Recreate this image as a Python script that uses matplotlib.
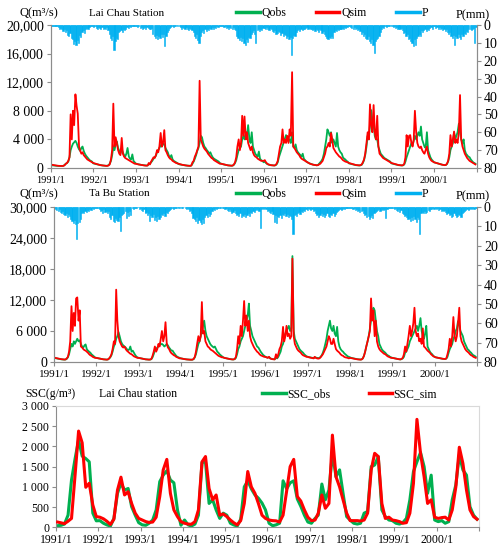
import pandas as pd
import matplotlib
matplotlib.use("Agg")
import matplotlib.pyplot as plt
from matplotlib.lines import Line2D

plt.rcParams['font.family'] = ['Liberation Serif', 'DejaVu Serif']

############################################
# DATA (dekadal values, 36 per year, 1991-2000)
years = list(range(1991, 2001))

# Lai Chau discharge (m3/s)
lc_qobs = [
    [400, 380, 360, 340, 320, 300, 290, 280, 270, 270, 280, 320, 450, 600, 700, 900, 1500, 2500, 3000, 3400, 3600, 3800, 3500, 3000, 2600, 2400, 2800, 3000, 2400, 2000, 1700, 1500, 1300, 1100, 1000, 900],
    [650, 600, 560, 520, 480, 440, 400, 380, 350, 330, 320, 300, 320, 400, 600, 1000, 1800, 3000, 2500, 3300, 3700, 2800, 2400, 2000, 2600, 2200, 1800, 1600, 2000, 2800, 1600, 1300, 1200, 1900, 1000, 800],
    [600, 560, 520, 480, 450, 420, 400, 380, 360, 350, 360, 500, 600, 800, 1000, 1300, 1500, 1700, 2200, 2500, 2800, 3200, 3000, 3400, 3300, 2800, 2500, 2200, 1700, 1500, 1800, 1200, 1000, 900, 800, 700],
    [550, 500, 470, 440, 410, 380, 360, 340, 320, 310, 300, 350, 600, 900, 1300, 1800, 2400, 2800, 3500, 4500, 4300, 3500, 3000, 2800, 2500, 2300, 2000, 2200, 1800, 1500, 1300, 1200, 1100, 1000, 900, 700],
    [600, 550, 510, 470, 430, 400, 370, 350, 330, 320, 340, 450, 700, 1100, 1800, 2500, 2800, 3000, 4000, 4500, 4000, 5000, 4500, 6000, 4000, 3500, 5000, 3000, 2500, 2000, 1800, 1600, 2300, 1300, 1100, 1000],
    [800, 900, 700, 550, 480, 430, 400, 380, 360, 350, 380, 500, 800, 1500, 2000, 2500, 3000, 3500, 4000, 4600, 4200, 3800, 4000, 3500, 5000, 3000, 2800, 3300, 2500, 2200, 2000, 1800, 1600, 2000, 1300, 1100],
    [900, 800, 700, 620, 560, 500, 460, 430, 400, 380, 420, 600, 800, 1000, 1300, 2000, 3000, 4000, 5400, 5000, 4500, 5000, 3500, 4000, 3500, 3000, 4900, 3000, 2500, 2200, 2000, 1500, 1300, 1200, 1000, 900],
    [650, 600, 560, 520, 480, 440, 400, 380, 360, 350, 380, 450, 700, 1100, 1800, 3000, 4500, 4000, 6000, 8100, 6500, 6000, 4500, 4000, 4000, 3000, 2500, 2000, 1800, 1600, 1400, 1300, 1200, 1100, 1000, 900],
    [650, 600, 560, 520, 480, 440, 400, 380, 360, 350, 380, 500, 900, 1500, 2000, 2500, 3000, 3500, 3200, 3800, 4500, 4000, 4500, 5000, 4500, 5800, 4000, 3500, 3000, 2800, 5000, 2500, 2000, 1500, 1200, 1000],
    [800, 750, 700, 650, 600, 550, 500, 460, 430, 400, 420, 550, 900, 1500, 2500, 3000, 3500, 5000, 4000, 4500, 5000, 6200, 5000, 4000, 3500, 4000, 2500, 2000, 1800, 1600, 1500, 1200, 1000, 800, 700, 600],
]
lc_qsim = [
    [480, 450, 420, 390, 360, 340, 320, 300, 290, 280, 280, 300, 400, 600, 700, 1000, 1500, 7500, 4000, 8000, 6000, 10300, 8700, 7600, 3000, 2400, 2000, 2200, 1800, 1600, 1400, 1200, 1100, 1000, 900, 800],
    [700, 650, 600, 550, 500, 450, 400, 380, 350, 330, 320, 300, 300, 350, 500, 1200, 2500, 9000, 3000, 4300, 3500, 2500, 2000, 1800, 4200, 2000, 1600, 1400, 1300, 1200, 1100, 1000, 900, 800, 700, 600],
    [600, 550, 500, 470, 440, 410, 380, 360, 340, 330, 350, 700, 500, 900, 1200, 1500, 1400, 1800, 2500, 2200, 3000, 4900, 3000, 3500, 5300, 2500, 2200, 1800, 1500, 1300, 1200, 1000, 900, 800, 700, 650],
    [600, 550, 500, 450, 420, 390, 360, 340, 320, 310, 300, 350, 800, 1000, 1600, 2000, 2500, 3000, 12200, 4000, 3500, 3000, 2700, 2500, 2300, 2000, 1800, 1600, 1400, 1300, 1100, 1000, 900, 800, 700, 600],
    [600, 560, 520, 480, 440, 400, 370, 350, 330, 320, 350, 500, 800, 1500, 3000, 4000, 2500, 3500, 7300, 4500, 7200, 4000, 5000, 3500, 3000, 2500, 3000, 2200, 1800, 1600, 1500, 1300, 1200, 1100, 1000, 1000],
    [1000, 1100, 800, 600, 500, 450, 400, 380, 360, 350, 400, 600, 1000, 2000, 3000, 3500, 5400, 3500, 4000, 3500, 4500, 3500, 5400, 4500, 13400, 3000, 2800, 2500, 2200, 2000, 1800, 1500, 1300, 1200, 1100, 1000],
    [900, 800, 700, 600, 550, 500, 460, 430, 400, 380, 400, 500, 600, 800, 1000, 1500, 2000, 2800, 3000, 3500, 3000, 4900, 4000, 2800, 2500, 2200, 2000, 1800, 1600, 1500, 1300, 1100, 1000, 900, 850, 800],
    [700, 650, 600, 550, 500, 460, 420, 400, 380, 370, 400, 500, 800, 1200, 2000, 3500, 5000, 4000, 8900, 6000, 5000, 8800, 5000, 4000, 7300, 3000, 2000, 1800, 1600, 1400, 1300, 1200, 1100, 1000, 900, 800],
    [700, 650, 600, 550, 500, 450, 420, 400, 380, 370, 400, 600, 1500, 4600, 3000, 4500, 4600, 3500, 3000, 4000, 8000, 5000, 3500, 3000, 2800, 3000, 2500, 2200, 2000, 2500, 3000, 2000, 1500, 1200, 1000, 900],
    [800, 750, 700, 650, 600, 550, 500, 460, 430, 400, 420, 600, 1000, 2000, 4600, 3000, 4000, 5100, 3500, 4000, 3500, 5000, 10200, 4000, 3000, 2500, 2000, 1700, 1400, 1200, 1000, 900, 800, 700, 600, 500],
]
# Lai Chau precipitation (mm)
lc_p = [
    [0.5, 0.3, 0.6, 0.4, 0.8, 0.5, 1.2, 2.0, 1.5, 2.5, 3.5, 2.0, 4.0, 3.0, 5.5, 6.0, 4.5, 7.5, 8.0, 10.5, 9.0, 11.0, 8.5, 10.0, 5.5, 6.5, 4.0, 3.0, 4.5, 2.0, 1.5, 2.5, 1.0, 0.8, 0.5, 0.3],
    [1.0, 0.5, 1.5, 2.0, 1.0, 1.5, 2.0, 1.0, 2.5, 1.5, 2.0, 1.0, 3.0, 5.0, 7.0, 8.5, 6.0, 14.0, 9.0, 7.0, 8.0, 4.0, 3.5, 3.0, 4.0, 2.5, 3.0, 2.0, 1.0, 1.5, 0.5, 1.0, 0.5, 0.3, 0.5, 0.3],
    [0.5, 1.0, 0.5, 1.5, 1.0, 2.0, 1.5, 1.0, 2.0, 1.0, 1.5, 2.0, 2.5, 1.5, 5.0, 6.0, 7.5, 5.5, 8.0, 6.0, 7.0, 5.0, 6.5, 5.0, 12.0, 6.0, 4.0, 3.0, 1.5, 1.0, 0.5, 1.0, 0.5, 0.3, 0.2, 0.5],
    [0.5, 1.0, 2.0, 1.0, 1.5, 2.5, 1.0, 2.0, 3.0, 1.5, 2.5, 3.0, 4.0, 6.0, 7.0, 5.0, 8.5, 10.0, 6.0, 4.0, 3.0, 4.5, 2.0, 3.5, 2.0, 3.0, 1.5, 2.5, 1.0, 2.0, 1.0, 1.5, 0.5, 1.0, 0.5, 0.3],
    [0.5, 0.3, 1.0, 0.5, 1.5, 1.0, 2.0, 1.0, 1.5, 2.0, 1.0, 2.5, 3.0, 6.0, 7.0, 8.5, 6.5, 9.0, 7.0, 10.0, 11.0, 8.0, 9.5, 6.5, 7.0, 5.0, 4.0, 3.0, 5.0, 10.0, 3.0, 2.5, 3.5, 2.0, 3.0, 1.5],
    [1.5, 2.5, 1.0, 2.0, 3.0, 1.5, 2.5, 3.5, 4.0, 3.0, 5.0, 4.5, 3.5, 4.0, 5.5, 4.5, 6.0, 5.0, 5.5, 7.0, 6.0, 8.0, 6.5, 17.0, 7.0, 5.5, 6.0, 4.0, 3.0, 2.5, 3.5, 2.0, 3.0, 2.0, 2.5, 1.5],
    [1.0, 2.0, 1.5, 2.5, 2.0, 3.0, 2.0, 3.5, 2.5, 3.0, 4.0, 2.5, 3.0, 4.5, 3.5, 5.0, 6.0, 7.0, 8.0, 6.5, 7.5, 6.0, 7.0, 4.0, 3.0, 3.5, 2.5, 3.0, 2.0, 2.5, 1.5, 2.0, 1.0, 1.5, 1.0, 0.5],
    [0.5, 1.0, 1.5, 2.0, 1.0, 2.5, 1.5, 3.0, 2.0, 3.5, 5.0, 4.0, 6.0, 5.0, 7.5, 8.0, 6.0, 9.0, 10.0, 8.0, 11.0, 15.5, 9.0, 8.0, 7.0, 6.0, 4.0, 2.0, 1.0, 1.5, 0.5, 1.0, 0.5, 0.3, 0.5, 0.2],
    [0.5, 1.0, 0.5, 1.5, 1.0, 2.0, 1.0, 2.0, 1.5, 3.0, 4.5, 4.0, 6.0, 5.0, 8.0, 7.0, 9.0, 10.0, 12.0, 8.0, 11.0, 7.0, 6.0, 5.0, 6.0, 3.0, 4.0, 3.0, 2.5, 3.5, 2.0, 3.0, 1.5, 1.0, 2.0, 0.5],
    [0.5, 1.5, 1.0, 2.0, 1.0, 2.5, 1.5, 3.0, 2.0, 3.5, 2.5, 4.0, 5.0, 4.0, 6.0, 7.0, 5.5, 11.0, 6.0, 7.5, 5.0, 6.5, 8.0, 5.0, 6.0, 4.5, 5.0, 3.5, 4.0, 2.5, 2.0, 3.0, 2.5, 1.5, 10.0, 1.0],
]

# Ta Bu discharge (m3/s)
tb_qobs = [
    [800, 750, 700, 650, 600, 560, 530, 500, 480, 460, 480, 600, 900, 1500, 2500, 3500, 3000, 4000, 3500, 4000, 4500, 4000, 4200, 3500, 3000, 2800, 3200, 3400, 2500, 2200, 2000, 1800, 1500, 1300, 1100, 900],
    [800, 750, 700, 650, 600, 560, 520, 500, 480, 460, 500, 650, 900, 1300, 2000, 3000, 3500, 4500, 5000, 5800, 5000, 4000, 3500, 3200, 3000, 2800, 2500, 2300, 2400, 3000, 2000, 2200, 1800, 1400, 1100, 900],
    [800, 750, 700, 650, 600, 560, 520, 500, 480, 460, 480, 550, 900, 1500, 2200, 2500, 2800, 3000, 3600, 3400, 3500, 3300, 3000, 3200, 3500, 3200, 2800, 2500, 2200, 2200, 1800, 1500, 1200, 1000, 900, 800],
    [700, 650, 600, 560, 520, 500, 480, 460, 450, 440, 460, 550, 900, 1500, 2500, 3500, 4000, 5000, 6000, 7000, 8000, 6000, 5000, 4500, 4000, 3500, 3200, 3000, 2800, 3000, 2500, 2000, 1800, 1500, 1300, 1100],
    [900, 800, 750, 700, 650, 600, 560, 530, 500, 500, 550, 800, 1500, 2500, 3000, 4000, 4500, 5000, 6000, 7000, 8000, 9000, 11300, 7000, 6000, 5000, 4500, 4000, 3500, 3000, 2800, 2400, 2000, 1700, 1400, 1200],
    [1000, 900, 850, 950, 700, 620, 570, 540, 520, 800, 700, 1000, 1500, 2000, 3000, 3500, 4500, 5500, 6000, 6500, 7000, 6000, 6500, 20500, 6000, 4500, 4000, 3500, 3000, 2500, 2200, 2000, 1800, 1500, 1300, 1100],
    [1000, 950, 900, 850, 800, 750, 900, 850, 800, 750, 800, 1000, 1300, 1800, 2500, 3500, 4500, 6000, 7000, 8000, 6500, 6000, 7000, 5500, 5000, 6800, 4000, 3000, 2500, 2200, 2000, 1700, 1500, 1300, 1100, 1000],
    [900, 800, 750, 700, 650, 600, 560, 530, 500, 480, 520, 700, 1200, 2000, 3000, 4000, 5000, 6500, 8000, 9000, 10500, 10000, 8000, 6000, 5000, 3500, 3000, 2500, 2200, 2000, 1800, 1500, 1300, 1200, 1000, 900],
    [800, 750, 700, 650, 600, 560, 530, 500, 550, 700, 1000, 1800, 2000, 2500, 3000, 4000, 4500, 5000, 5500, 6000, 6500, 7000, 6000, 7000, 8500, 6000, 5000, 4500, 5500, 7000, 3000, 2500, 2000, 1700, 1500, 1200],
    [1000, 900, 850, 800, 750, 700, 650, 620, 600, 580, 650, 1000, 1800, 2500, 3000, 3500, 4500, 5000, 6000, 6500, 7900, 7000, 6000, 5500, 5000, 4000, 3500, 3000, 2500, 2300, 2000, 1800, 1500, 1300, 1200, 1000],
]
tb_qsim = [
    [900, 800, 750, 700, 650, 600, 560, 530, 500, 480, 500, 700, 1000, 2000, 4000, 10800, 6000, 9500, 7000, 12300, 12500, 8000, 10000, 3000, 2800, 2500, 2300, 2200, 2000, 1800, 1500, 1300, 1200, 1000, 900, 800],
    [800, 750, 700, 650, 600, 560, 520, 500, 480, 460, 500, 700, 1000, 1500, 2500, 4000, 3500, 14000, 8000, 5000, 4000, 3500, 3000, 2800, 3000, 2500, 2200, 2000, 1800, 1600, 1500, 1300, 1100, 1000, 900, 800],
    [800, 750, 700, 650, 600, 560, 520, 500, 480, 460, 480, 600, 1200, 2000, 3000, 2000, 2500, 3500, 3000, 4500, 6000, 4000, 5000, 7700, 3500, 2800, 2500, 2000, 1700, 1500, 1300, 1200, 1000, 900, 800, 700],
    [700, 650, 600, 560, 520, 500, 480, 460, 450, 440, 460, 600, 1000, 2000, 3500, 5000, 4000, 5000, 11600, 5500, 6000, 4000, 3500, 3000, 2800, 2500, 2300, 2200, 2000, 1800, 1600, 1400, 1200, 1100, 1000, 900],
    [900, 800, 750, 700, 650, 600, 560, 530, 500, 500, 600, 1000, 2500, 5000, 3500, 7000, 5000, 8000, 11800, 7000, 9000, 6000, 8000, 5000, 4000, 3500, 3000, 2600, 2300, 2000, 1800, 1500, 1300, 1200, 1100, 1000],
    [1000, 900, 800, 1000, 700, 600, 550, 520, 500, 1500, 800, 1500, 2500, 3000, 4000, 6800, 4000, 5000, 7000, 5000, 5500, 4500, 5000, 20000, 5000, 3500, 3000, 2500, 2200, 2000, 1800, 1500, 1300, 1200, 1100, 1000],
    [1000, 900, 850, 800, 750, 700, 1000, 800, 700, 650, 700, 900, 1200, 1500, 2000, 2500, 3000, 4000, 5000, 4500, 3500, 3500, 4500, 3500, 2500, 2200, 2000, 1800, 1500, 1300, 1200, 1000, 900, 850, 800, 700],
    [800, 750, 700, 650, 600, 560, 530, 500, 480, 460, 500, 700, 1200, 2000, 3000, 4000, 5000, 6000, 12300, 8000, 10000, 5000, 8000, 4000, 3000, 2500, 2200, 2000, 1800, 1600, 1500, 1300, 1100, 1000, 900, 800],
    [800, 750, 700, 650, 600, 560, 530, 500, 600, 800, 1500, 3000, 2000, 3500, 5000, 7000, 5000, 6000, 7500, 10500, 6000, 5000, 5500, 4000, 4500, 3500, 6500, 3000, 2800, 2500, 2200, 2000, 1800, 1500, 1300, 1100],
    [1000, 900, 850, 800, 750, 700, 650, 620, 600, 580, 700, 1500, 2500, 4500, 3000, 5000, 8700, 5000, 4000, 5000, 7500, 10500, 5000, 4000, 3500, 3000, 2500, 2200, 2000, 1800, 1500, 1300, 1200, 1000, 900, 800],
]
# Ta Bu precipitation (mm)
tb_p = [
    [0.5, 1.0, 1.5, 2.0, 1.0, 2.5, 3.0, 2.0, 3.5, 4.0, 3.0, 5.0, 3.5, 4.5, 6.0, 7.0, 8.5, 6.5, 9.0, 16.5, 8.0, 7.5, 6.0, 3.0, 2.5, 3.0, 2.0, 2.5, 1.5, 2.0, 1.0, 1.5, 0.5, 1.0, 0.5, 0.3],
    [0.5, 0.3, 1.0, 2.0, 1.5, 3.0, 1.0, 2.5, 2.0, 3.0, 2.0, 5.0, 6.0, 4.0, 7.0, 7.5, 5.5, 6.5, 7.0, 5.0, 12.5, 4.0, 3.5, 3.0, 2.0, 5.5, 2.5, 4.5, 2.0, 4.0, 0.5, 1.0, 0.5, 0.3, 0.5, 0.2],
    [1.0, 0.5, 1.5, 2.0, 1.0, 3.0, 2.5, 4.0, 3.0, 7.0, 4.0, 5.0, 3.5, 6.5, 5.0, 7.0, 4.5, 6.0, 5.0, 3.5, 4.0, 3.0, 4.5, 2.5, 3.0, 2.0, 1.5, 1.0, 0.5, 1.0, 0.5, 0.3, 0.5, 0.2, 0.3, 0.2],
    [0.3, 0.5, 0.2, 0.5, 1.0, 0.5, 1.0, 2.0, 1.5, 3.0, 5.5, 6.0, 7.0, 5.0, 8.0, 6.5, 7.5, 9.0, 6.0, 8.0, 5.0, 4.0, 5.0, 3.0, 4.5, 3.5, 2.0, 1.0, 1.5, 0.5, 1.0, 0.5, 0.3, 0.5, 0.2, 0.3],
    [0.5, 1.0, 0.5, 1.5, 2.0, 1.0, 2.0, 3.0, 2.5, 1.5, 3.0, 4.0, 3.5, 4.5, 3.0, 5.0, 4.0, 4.5, 3.5, 5.0, 4.0, 3.0, 4.5, 2.5, 3.0, 2.0, 2.5, 1.5, 1.0, 1.5, 2.0, 11.0, 1.0, 0.5, 1.0, 0.5],
    [1.0, 2.0, 1.5, 2.5, 3.0, 2.0, 3.5, 7.5, 4.0, 8.0, 4.5, 5.0, 4.0, 5.5, 3.5, 4.0, 3.0, 4.5, 3.5, 5.0, 4.0, 4.5, 6.0, 14.0, 4.0, 3.5, 4.5, 3.0, 2.5, 3.5, 2.0, 2.5, 1.5, 2.0, 1.0, 1.5],
    [0.5, 1.0, 1.5, 1.0, 2.0, 1.5, 3.0, 4.0, 3.5, 5.0, 4.0, 3.0, 4.5, 3.5, 5.0, 4.0, 3.0, 4.5, 5.0, 3.5, 4.0, 3.0, 4.5, 3.5, 2.5, 2.0, 1.5, 1.0, 1.5, 1.0, 0.5, 1.0, 0.5, 0.3, 0.5, 0.3],
    [0.3, 0.5, 1.0, 0.5, 1.5, 1.0, 2.0, 1.5, 2.5, 2.0, 1.5, 3.0, 4.0, 3.5, 5.0, 4.5, 6.0, 5.0, 4.0, 5.5, 3.0, 2.5, 2.0, 1.5, 1.0, 2.0, 1.5, 1.0, 1.5, 1.0, 5.5, 1.0, 0.5, 0.5, 0.3, 0.5],
    [0.5, 1.0, 0.5, 1.5, 2.0, 1.0, 2.5, 1.5, 3.0, 3.5, 4.5, 4.0, 5.0, 6.0, 5.5, 7.0, 5.0, 6.5, 4.5, 6.0, 7.5, 5.0, 6.0, 14.0, 3.0, 2.5, 3.0, 2.0, 3.0, 2.5, 1.5, 2.0, 1.0, 1.0, 0.5, 1.0],
    [0.5, 1.0, 0.5, 1.5, 1.0, 2.0, 1.5, 2.0, 1.5, 2.5, 3.5, 3.0, 4.0, 3.5, 5.0, 4.5, 3.0, 4.0, 5.0, 4.5, 3.5, 4.0, 5.0, 3.0, 2.5, 2.0, 1.5, 1.0, 1.5, 1.0, 0.5, 1.0, 0.5, 1.0, 0.5, 0.3],
]

# Lai Chau suspended sediment concentration (g/m3), monthly
ssc_obs = [
    [40, 50, 80, 300, 1170, 1700, 2160, 1760, 1700, 1620, 350, 160],
    [165, 100, 60, 30, 220, 840, 1090, 920, 960, 510, 300, 115],
    [60, 50, 100, 180, 430, 1130, 1290, 1400, 1170, 1100, 430, 50],
    [180, 60, 30, 80, 300, 1600, 1620, 590, 680, 430, 220, 350],
    [300, 100, 60, 30, 200, 1000, 1150, 950, 800, 720, 600, 430],
    [100, 40, 60, 100, 1150, 950, 1100, 1150, 700, 520, 300, 130],
    [100, 220, 300, 1070, 680, 920, 1830, 1250, 1420, 840, 265, 180],
    [100, 80, 100, 350, 390, 1500, 1540, 1750, 430, 265, 180, 165],
    [100, 80, 115, 220, 680, 1380, 1620, 1850, 1500, 840, 1290, 180],
    [140, 165, 100, 140, 680, 1050, 1790, 1420, 1290, 510, 300, 200],
]
ssc_sim = [
    [130, 110, 90, 150, 220, 1300, 2380, 2090, 990, 1090, 550, 265],
    [250, 210, 150, 70, 200, 920, 1240, 800, 880, 590, 350, 220],
    [180, 140, 120, 130, 250, 760, 1420, 1680, 840, 430, 265, 140],
    [100, 80, 75, 140, 430, 1620, 1750, 960, 680, 800, 300, 330],
    [265, 180, 115, 60, 165, 590, 1380, 1000, 840, 590, 300, 220],
    [180, 165, 160, 130, 300, 900, 1500, 1680, 760, 650, 430, 250],
    [165, 180, 350, 800, 470, 590, 2280, 1250, 1000, 680, 350, 165],
    [165, 165, 155, 180, 350, 1420, 1830, 1750, 590, 220, 250, 180],
    [165, 140, 100, 115, 350, 1090, 2670, 1830, 1250, 590, 680, 250],
    [220, 240, 250, 180, 430, 1000, 1980, 1580, 920, 430, 265, 200],
]

# axis ticks
q1_ticks = [0, 4000, 8000, 12000, 16000, 20000]
q1_labels = ['0', '4 000', '8 000', '12,000', '16,000', '20,000']
q2_ticks = [0, 6000, 12000, 18000, 24000, 30000]
q2_labels = ['0', '6 000', '12,000', '18,000', '24,000', '30,000']
ssc_ticks = [0, 500, 1000, 1500, 2000, 2500, 3000]
ssc_labels = ['0', '500', '1 000', '1 500', '2 000', '2 500', '3 000']
p_ticks = [0, 10, 20, 30, 40, 50, 60, 70, 80]
year_ticks = [f"{y}/1" for y in years]

############################################
GREEN = '#00B050'
RED = '#FF0000'
BLUE = '#00B0F0'
GRAY = '#8c8c8c'

dek = pd.to_datetime([f"{y}-{m:02d}-{d:02d}" for y in years for m in range(1, 13) for d in (1, 11, 21)])
mon = pd.to_datetime([f"{y}-{m:02d}-15" for y in years for m in range(1, 13)])
xt = pd.to_datetime([f"{y}-01-01" for y in range(1991, 2002)])
x0, x1 = pd.Timestamp("1991-01-01"), pd.Timestamp("2001-01-01")


def flat(v):
    return [a for row in v for a in row]


fig = plt.figure(figsize=(5.03, 5.5), dpi=100)


def q_panel(rect, qobs, qsim, p, qmax, qt, ql, station, ytop, xsize):
    ax = fig.add_axes(rect)
    ax.plot(dek, flat(qobs), color=GREEN, lw=1.3, zorder=2)
    ax.plot(dek, flat(qsim), color=RED, lw=1.3, zorder=3)
    ax.set_xlim(x0, x1)
    ax.set_ylim(0, qmax)
    ax.set_yticks(qt)
    ax.set_yticklabels(ql, fontsize=10)
    ax.set_xticks(xt)
    ax.set_xticklabels(year_ticks + [''], fontsize=xsize)
    for s in ['left', 'bottom', 'right']:
        ax.spines[s].set_color(GRAY)
    ax.spines['top'].set_visible(False)
    ax.tick_params(axis='both', colors=GRAY, labelcolor='black', length=3, pad=2)
    ax.tick_params(axis='x', pad=3)
    ax2 = ax.twinx()
    ax2.bar(dek, flat(p), width=10.2, align='edge', color=BLUE, edgecolor=BLUE, linewidth=0.4)
    ax2.set_ylim(80, 0)
    ax2.set_yticks(p_ticks)
    ax2.set_yticklabels([str(t) for t in p_ticks], fontsize=10)
    ax2.spines['top'].set_visible(False)
    for s in ['left', 'bottom', 'right']:
        ax2.spines[s].set_color(GRAY)
    ax2.tick_params(axis='y', colors=GRAY, labelcolor='black', length=3, pad=2)
    ax2.set_xlim(x0, x1)

    fy = 1 - ytop / 550
    fig.text(20 / 503, fy, 'Q(m³/s)', fontsize=9, va='center')
    fig.text(89 / 503, fy, station, fontsize=8, va='center')
    fig.text(456 / 503, fy - 0.004, 'P(mm)', fontsize=9, va='center')
    handles = [Line2D([], [], color=GREEN, lw=2.5), Line2D([], [], color=RED, lw=2.5),
               Line2D([], [], color=BLUE, lw=2.5)]
    fig.legend(handles, ['Qobs', 'Qsim', 'P'], loc='center left', ncol=3, frameon=False,
               bbox_to_anchor=(236 / 503, fy), fontsize=8.5, handlelength=2.0,
               handletextpad=0.15, columnspacing=2.5, borderaxespad=0, borderpad=0)
    return ax


q_panel([50.7 / 503, 1 - 168 / 550, 426 / 503, 143 / 550], lc_qobs, lc_qsim, lc_p,
        20000, q1_ticks, q1_labels, 'Lai Chau Station', 13, 7.5)
q_panel([54 / 503, 1 - 362 / 550, 423 / 503, 155 / 550], tb_qobs, tb_qsim, tb_p,
        30000, q2_ticks, q2_labels, 'Ta Bu Station', 194, 8)

############################################
# SSC panel
ax3 = fig.add_axes([56 / 503, 1 - 527.3 / 550, 423 / 503, 121.3 / 550])
ax3.plot(mon, flat(ssc_obs), color=GREEN, lw=2.2, zorder=2)
ax3.plot(mon, flat(ssc_sim), color=RED, lw=2.2, zorder=3)
ax3.set_xlim(x0, x1)
ax3.set_ylim(0, 3000)
ax3.set_yticks(ssc_ticks)
ax3.set_yticklabels(ssc_labels, fontsize=8.5)
ax3.set_xticks(xt)
ax3.set_xticklabels(year_ticks + [''], fontsize=8.5)
ax3.spines['left'].set_color(GRAY)
ax3.spines['bottom'].set_color(GRAY)
ax3.spines['top'].set_color('#d9d9d9')
ax3.spines['right'].set_color('#d9d9d9')
ax3.tick_params(axis='both', colors=GRAY, labelcolor='black', length=3, pad=2)
ax3.tick_params(axis='x', pad=2)

fy = 1 - 394 / 550
fig.text(25 / 503, fy, 'SSC(g/m³)', fontsize=8.5, va='center')
fig.text(99 / 503, fy, 'Lai Chau station', fontsize=8.5, va='center')
fig.legend([Line2D([], [], color=GREEN, lw=2.5), Line2D([], [], color=RED, lw=2.5)],
           ['SSC_obs', 'SSC_sim'], loc='center left', ncol=2, frameon=False,
           bbox_to_anchor=(262 / 503, fy), fontsize=8.5, handlelength=2.0,
           handletextpad=0.1, columnspacing=3.3, borderaxespad=0, borderpad=0)

fig.savefig('out.png', dpi=100)
